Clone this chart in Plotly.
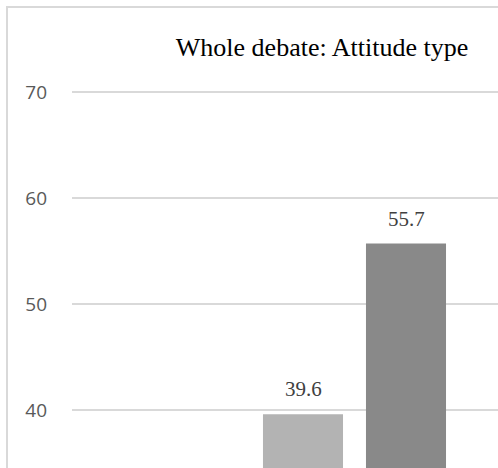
import plotly.graph_objects as go

# Attitude-type shares for the whole debate (percent)
categories = [1, 2]
values = [39.6, 55.7]
bar_colors = ["#b3b3b3", "#898989"]
y_ticks = [40, 50, 60, 70]

W, H = 498, 468
ML, MR, MT, MB = 72, 0, 60, 0
pw, ph = W - ML - MR, H - MT - MB

fig = go.Figure()
fig.add_trace(go.Bar(
    x=categories,
    y=values,
    marker=dict(color=bar_colors, line=dict(width=0)),
    width=0.777,
    hoverinfo="skip",
    showlegend=False,
))

# value labels above each bar
for cx, v in zip(categories, values):
    fig.add_annotation(
        x=cx, y=v, text=f"{v:.1f}", showarrow=False,
        yanchor="bottom", yshift=11,
        font=dict(family="Liberation Serif", size=21, color="#404040"),
    )

# thin light frame around the chart area
fig.add_shape(
    type="rect", xref="paper", yref="paper",
    x0=(7 - ML) / pw, x1=1.2, y0=-0.2, y1=1 + (MT - 7) / ph,
    line=dict(color="#d9d9d9", width=2), fillcolor="rgba(0,0,0,0)", layer="below",
)

fig.update_layout(
    width=W, height=H,
    margin=dict(l=ML, r=MR, t=MT, b=MB),
    paper_bgcolor="white", plot_bgcolor="white",
    title=dict(
        text="Whole debate: Attitude type",
        font=dict(family="Liberation Serif", size=26, color="#000000"),
        xref="paper", x=(322 - ML) / pw, xanchor="center",
        yref="container", y=1 - 47 / H, yanchor="middle",
    ),
    xaxis=dict(
        range=[1 - 231 / 103, 1 + 195 / 103],
        showticklabels=False, showgrid=False, zeroline=False, showline=False,
    ),
    yaxis=dict(
        range=[34.53, 73.02],
        tickvals=y_ticks,
        tickfont=dict(family="Open Sans", size=19, color="#595959"),
        ticklabelstandoff=24,
        showgrid=True, gridcolor="#d9d9d9", gridwidth=1.5,
        zeroline=False, showline=False,
    ),
)

fig.write_html("out.html")
